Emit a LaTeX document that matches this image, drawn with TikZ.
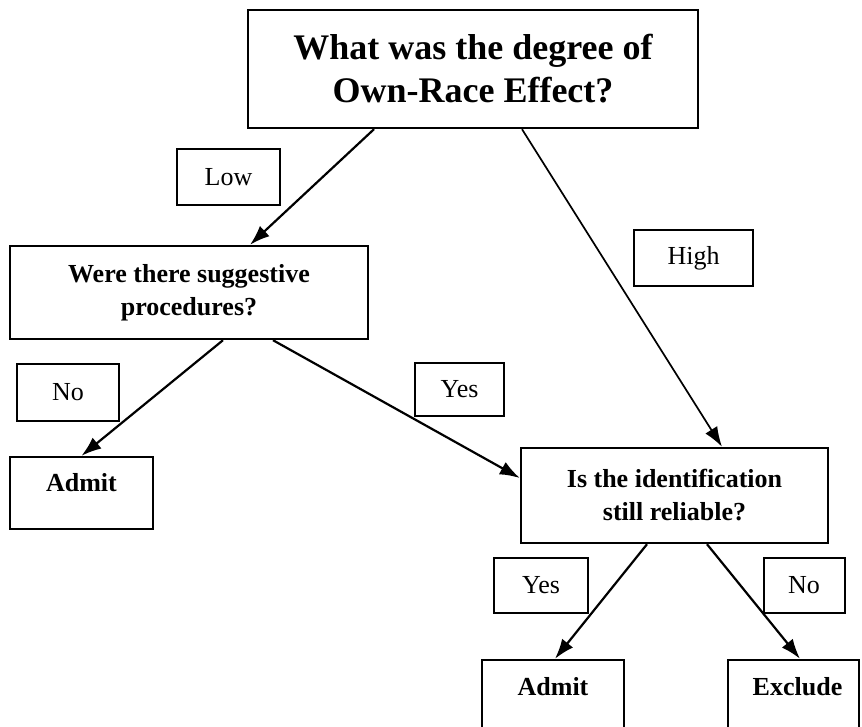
\documentclass[tikz,border=0pt]{standalone}
\usepackage{fontspec}
\setmainfont{Liberation Serif}
\usetikzlibrary{arrows.meta}
\begin{document}
\begin{tikzpicture}[x=1pt,y=-1pt,
  box/.style={draw, line width=2.4pt, inner sep=0pt, align=center},
  qbox/.style={box, font=\fontsize{26}{33}\selectfont\bfseries},
  lblbox/.style={box, line width=2pt, font=\fontsize{26}{30}\selectfont},
  endtxt/.style={anchor=base, inner sep=0pt, font=\fontsize{26}{30}\selectfont\bfseries},
  arr/.style={line width=2.2pt, -{Latex[length=20pt,width=14pt]}},
]
\useasboundingbox (0,0) rectangle (862,727);
\clip (0,0) rectangle (862,727);
% question boxes
\node[box, minimum width=450pt, minimum height=118pt, font=\fontsize{36}{43}\selectfont\bfseries] (top) at (473,69) {What was the degree of\\Own-Race Effect?};
\node[qbox, minimum width=358pt, minimum height=93pt] (sugg) at (189,292.5) {Were there suggestive\\procedures?};
\node[qbox, minimum width=307pt, minimum height=95pt] (ident) at (674.5,495.5) {Is the identification\\still reliable?};
% outcome boxes
\node[box, minimum width=143pt, minimum height=72pt] (admitA) at (81.5,493) {};
\node[endtxt] (admitAtxt) at ([yshift=-36pt]admitA.north) {Admit};
\node[box, minimum width=142pt, minimum height=72pt] (admitB) at (553,696) {};
\node[endtxt] (admitBtxt) at ([yshift=-37pt]admitB.north) {Admit};
\node[box, minimum width=131pt, minimum height=72pt] (excl) at (793.5,696) {};
\node[endtxt] (excltxt) at ([xshift=4pt,yshift=-37pt]excl.north) {Exclude};
% label boxes
\node[lblbox, minimum width=103pt, minimum height=56pt] (low) at (228.5,177) {Low};
\node[lblbox, minimum width=119pt, minimum height=56pt] (high) at (693.5,258) {High};
\node[lblbox, minimum width=102pt, minimum height=57pt] (noA) at (68,392.5) {No};
\node[lblbox, minimum width=89pt, minimum height=53pt] (yesA) at (459.5,389.5) {Yes};
\node[lblbox, minimum width=94pt, minimum height=55pt] (yesB) at (541,585.5) {Yes};
\node[lblbox, minimum width=81pt, minimum height=55pt] (noB) at (804,585.5) {No};
% connectors
\draw[arr] ([xshift=-99pt]top.south) -- ([xshift=61pt]sugg.north);
\draw[arr, line width=1.7pt] ([xshift=49pt]top.south) -- ([xshift=47.5pt]ident.north);
\draw[arr] ([xshift=34pt]sugg.south) -- (admitA.north);
\draw[arr] ([xshift=84pt]sugg.south) -- ([yshift=17.5pt]ident.west);
\draw[arr] ([xshift=-27.5pt]ident.south) -- ([xshift=2pt]admitB.north);
\draw[arr] ([xshift=32.5pt]ident.south) -- ([xshift=6.5pt]excl.north);
\end{tikzpicture}
\end{document}
